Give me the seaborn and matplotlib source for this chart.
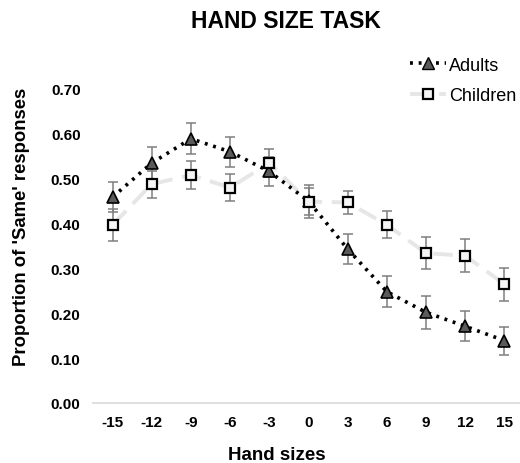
import matplotlib
matplotlib.use("Agg")
import matplotlib.pyplot as plt
import seaborn as sns
import pandas as pd
import numpy as np
from matplotlib.lines import Line2D

hand_sizes = ["-15", "-12", "-9", "-6", "-3", "0", "3", "6", "9", "12", "15"]
adults = [0.459, 0.535, 0.589, 0.560, 0.516, 0.450, 0.343, 0.248, 0.202, 0.171, 0.139]
adults_err = [0.034, 0.035, 0.035, 0.033, 0.032, 0.030, 0.033, 0.035, 0.037, 0.033, 0.031]
children = [0.397, 0.488, 0.508, 0.480, 0.535, 0.449, 0.447, 0.397, 0.334, 0.328, 0.265]
children_err = [0.035, 0.030, 0.031, 0.030, 0.031, 0.037, 0.025, 0.030, 0.036, 0.037, 0.037]
y_ticks = [0.0, 0.1, 0.2, 0.3, 0.4, 0.5, 0.6, 0.7]

sns.set_theme(style="white")
plt.rcParams["font.family"] = ["Liberation Sans", "DejaVu Sans"]
plt.rcParams["text.color"] = "black"
plt.rcParams["axes.labelcolor"] = "black"
plt.rcParams["xtick.color"] = "black"
plt.rcParams["ytick.color"] = "black"

fig = plt.figure(figsize=(5.2, 4.64), dpi=100)
ax = fig.add_axes([93 / 520, 1 - 404 / 464, (524 - 93) / 520, (404 - 67.5) / 464])

pos = np.arange(len(hand_sizes))
df = pd.DataFrame({
    "pos": np.concatenate([pos, pos]),
    "value": adults + children,
    "group": ["Adults"] * len(pos) + ["Children"] * len(pos),
})

adult_ls = (0, (0.8, 1.6))
child_ls = (0, (5, 2.5))
child_col = "#e6e6e6"

sns.lineplot(data=df[df.group == "Children"], x="pos", y="value", ax=ax,
             color=child_col, linewidth=2.8, linestyle=child_ls, zorder=1, legend=False)
sns.lineplot(data=df[df.group == "Adults"], x="pos", y="value", ax=ax,
             color="black", linewidth=2.6, linestyle=adult_ls, zorder=2, legend=False)

ax.errorbar(pos, adults, yerr=adults_err, fmt="none", ecolor="#7f7f7f",
            elinewidth=1.1, capsize=3.5, capthick=1.1, zorder=3)
ax.errorbar(pos, children, yerr=children_err, fmt="none", ecolor="#7f7f7f",
            elinewidth=1.1, capsize=3.5, capthick=1.1, zorder=3)

ax.plot(pos, adults, linestyle="none", marker="^", markersize=8.5,
        markerfacecolor="#5a5a5a", markeredgecolor="black", markeredgewidth=1.2, zorder=4)
ax.plot(pos, children, linestyle="none", marker="s", markersize=7.5,
        markerfacecolor="#f4f4f4", markeredgecolor="black", markeredgewidth=1.6, zorder=5)

h1 = Line2D([], [], color="black", linewidth=2.6, linestyle=adult_ls,
            marker="^", markersize=8, markerfacecolor="#5a5a5a", markeredgecolor="black")
h2 = Line2D([], [], color=child_col, linewidth=2.8, linestyle=child_ls,
            marker="s", markersize=7, markerfacecolor="#f4f4f4", markeredgecolor="black",
            markeredgewidth=1.6)
fig.legend([h1, h2], ["Adults", "Children"], loc="upper right",
           bbox_to_anchor=(1.0, 1 - 54 / 464), bbox_transform=fig.transFigure,
           frameon=False, fontsize=13, borderpad=0.1, borderaxespad=0.1,
           handlelength=2.0, handletextpad=0.15, labelspacing=0.75)

ax.set_xlim(-0.5, len(hand_sizes) - 0.5)
ax.set_ylim(0, 0.75)
ax.set_yticks(y_ticks)
ax.set_yticklabels([f"{v:.2f}" for v in y_ticks], fontweight="bold", fontsize=11)
ax.set_xticks(pos)
ax.set_xticklabels(hand_sizes, fontweight="bold", fontsize=11)
ax.tick_params(axis="x", length=0, pad=9)
ax.tick_params(axis="y", length=0, pad=9)

for s in ["top", "right", "left"]:
    ax.spines[s].set_visible(False)
ax.spines["bottom"].set_color("#d9d9d9")
ax.spines["bottom"].set_linewidth(1.2)

ax.set_xlabel("Hand sizes", fontweight="bold", fontsize=13.5)
ax.set_ylabel("Proportion of 'Same' responses", fontweight="bold", fontsize=13.3)
ax.xaxis.set_label_coords((277 - 93) / (524 - 93), -(456 - 404) / (404 - 67.5))
ax.yaxis.set_label_coords(-(93 - 22) / (524 - 93), (404 - 227) / (404 - 67.5))
ax.xaxis.label.set_va("center")
ax.yaxis.label.set_va("center")
fig.text(286 / 520, 1 - 22 / 464, "HAND SIZE TASK", ha="center", va="center",
         fontweight="bold", fontsize=16.5)

fig.savefig("out.png", dpi=100)
